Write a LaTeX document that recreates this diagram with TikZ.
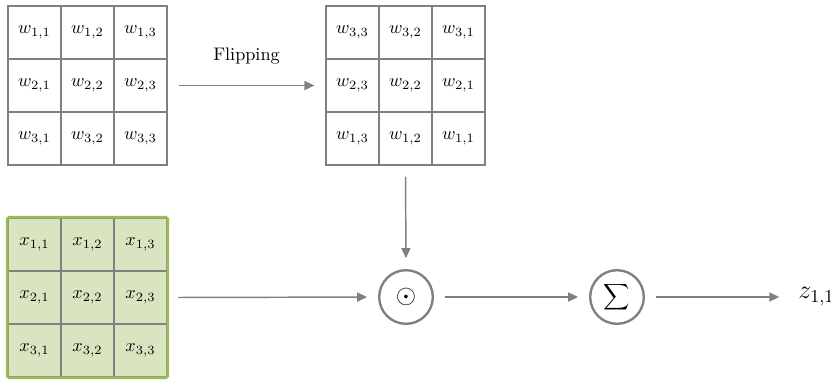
\documentclass[tikz,border=0pt]{standalone}
\usetikzlibrary{arrows.meta,fit}
\definecolor{linegray}{HTML}{808080}
\definecolor{cellgreen}{HTML}{D9E4C1}
\definecolor{bordergreen}{HTML}{9BBB59}
\tikzset{
  cell/.style={draw=linegray, line width=0.8pt, minimum size=29.15pt, inner sep=0pt, fill=white},
  gcell/.style={cell, fill=cellgreen},
  conn/.style={draw=linegray, line width=0.8pt, -{Triangle[length=5.5pt,width=5pt]}, shorten <=6pt, shorten >=6pt},
  opnode/.style={circle, draw=linegray, line width=1.3pt, minimum size=29.5pt, inner sep=0pt}
}
\begin{document}
\begin{tikzpicture}[x=0.55pt,y=-0.55pt]
\useasboundingbox (0,0) rectangle (831,381);
% left kernel
\foreach \r/\yy in {1/32.5,2/85.5,3/138.5}{
  \foreach \c/\xx in {1/34.5,2/87.5,3/140.5}{
    \node[cell] (w\r\c) at (\xx,\yy) {$w_{\r,\c}$};
  }
}
% flipped kernel
\foreach \r/\yy in {1/32.5,2/85.5,3/138.5}{
  \foreach \c/\xx in {1/352.5,2/405.5,3/458.5}{
    \pgfmathtruncatemacro{\rr}{4-\r}
    \pgfmathtruncatemacro{\cc}{4-\c}
    \node[cell] (f\r\c) at (\xx,\yy) {$w_{\rr,\cc}$};
  }
}
% input
\foreach \r/\yy in {1/244.5,2/297.5,3/350.5}{
  \foreach \c/\xx in {1/34.5,2/87.5,3/140.5}{
    \node[gcell] (x\r\c) at (\xx,\yy) {$x_{\r,\c}$};
  }
}
\node[fit=(x11)(x33), draw=bordergreen, line width=1.6pt, rounded corners=1pt, inner sep=0pt] (X) {};
% operators
\node[opnode] (dot) at (406,297) {\Large$\odot$};
\node[opnode] (sum) at (617,297) {\large$\displaystyle\sum$};
\node[anchor=west] (z) at (792,297) {\Large$z_{1,1}$};
% connectors
\draw[conn] (w23.east) -- node[above=8pt] (flip) {Flipping} (f21.west);
\draw[conn] (f32.south) -- (dot.north);
\draw[conn, shorten <=5pt] (X.east) -- (dot.west);
\draw[conn] (dot.east) -- (sum.west);
\draw[conn, shorten >=7pt] (sum.east) -- (z.west);
\end{tikzpicture}
\end{document}
